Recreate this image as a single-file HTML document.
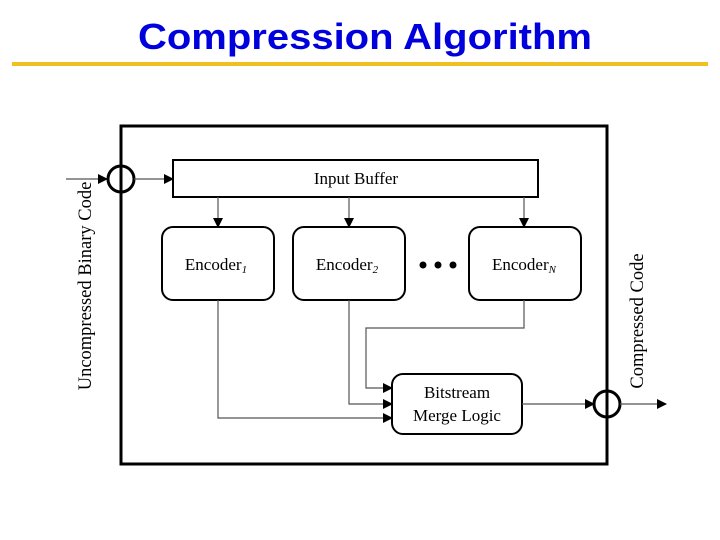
<!DOCTYPE html>
<html><head><meta charset="utf-8"><style>
html,body{margin:0;padding:0;background:#fff;}
svg{display:block;}
</style></head><body>
<svg width="720" height="540" viewBox="0 0 720 540" xmlns="http://www.w3.org/2000/svg">
<defs>
<marker id="a" markerWidth="10" markerHeight="10" refX="9" refY="5" orient="auto" markerUnits="userSpaceOnUse">
<path d="M0,0 L10,5 L0,10 z" fill="#000"/></marker>
</defs>
<text x="365" y="49" text-anchor="middle" font-family="Liberation Sans, sans-serif" font-weight="bold" font-size="36" fill="#0000dd" textLength="454" lengthAdjust="spacingAndGlyphs">Compression Algorithm</text>
<rect x="12" y="62" width="696" height="4" fill="#f0c020"/>
<rect x="121" y="126" width="486" height="338" fill="none" stroke="#000" stroke-width="3"/>
<g font-family="Liberation Serif, serif" font-size="17" fill="#000">
<line x1="66" y1="179" x2="107" y2="179" stroke="#555" stroke-width="1.2" marker-end="url(#a)"/>
<circle cx="121" cy="179" r="13" fill="#fff" stroke="#000" stroke-width="3"/>
<line x1="121" y1="166" x2="121" y2="192" stroke="#000" stroke-width="3"/>
<line x1="134" y1="179" x2="173" y2="179" stroke="#555" stroke-width="1.2" marker-end="url(#a)"/>
<rect x="173" y="160" width="365" height="37" fill="#fff" stroke="#000" stroke-width="2"/>
<text x="356" y="184" text-anchor="middle">Input Buffer</text>
<line x1="218" y1="197" x2="218" y2="227" stroke="#555" stroke-width="1.2" marker-end="url(#a)"/>
<line x1="349" y1="197" x2="349" y2="227" stroke="#555" stroke-width="1.2" marker-end="url(#a)"/>
<line x1="524" y1="197" x2="524" y2="227" stroke="#555" stroke-width="1.2" marker-end="url(#a)"/>
<rect x="162" y="227" width="112" height="73" rx="11" fill="#fff" stroke="#000" stroke-width="2"/>
<rect x="293" y="227" width="112" height="73" rx="11" fill="#fff" stroke="#000" stroke-width="2"/>
<rect x="469" y="227" width="112" height="73" rx="11" fill="#fff" stroke="#000" stroke-width="2"/>
<text x="216" y="270" text-anchor="middle">Encoder<tspan font-size="11" font-style="italic" dy="3">1</tspan></text>
<text x="347" y="270" text-anchor="middle">Encoder<tspan font-size="11" font-style="italic" dy="3">2</tspan></text>
<text x="524" y="270" text-anchor="middle">Encoder<tspan font-size="11" font-style="italic" dy="3">N</tspan></text>
<circle cx="423" cy="265" r="3.5" fill="#000"/><circle cx="438" cy="265" r="3.5" fill="#000"/><circle cx="453" cy="265" r="3.5" fill="#000"/>
<polyline points="524,300 524,328 366,328 366,388 392,388" fill="none" stroke="#555" stroke-width="1.2" marker-end="url(#a)"/>
<polyline points="349,300 349,404 392,404" fill="none" stroke="#555" stroke-width="1.2" marker-end="url(#a)"/>
<polyline points="218,300 218,418 392,418" fill="none" stroke="#555" stroke-width="1.2" marker-end="url(#a)"/>
<rect x="392" y="374" width="130" height="60" rx="11" fill="#fff" stroke="#000" stroke-width="2"/>
<text x="457" y="398" text-anchor="middle">Bitstream</text>
<text x="457" y="421" text-anchor="middle">Merge Logic</text>
<line x1="522" y1="404" x2="594" y2="404" stroke="#555" stroke-width="1.2" marker-end="url(#a)"/>
<circle cx="607" cy="404" r="13" fill="#fff" stroke="#000" stroke-width="3"/>
<line x1="607" y1="391" x2="607" y2="417" stroke="#000" stroke-width="3"/>
<line x1="620" y1="404" x2="666" y2="404" stroke="#555" stroke-width="1.2" marker-end="url(#a)"/>
<text transform="translate(91,286) rotate(-90)" text-anchor="middle" font-size="18.5">Uncompressed Binary Code</text>
<text transform="translate(643,321) rotate(-90)" text-anchor="middle" font-size="18.5">Compressed Code</text>
</g>
</svg>
</body></html>
